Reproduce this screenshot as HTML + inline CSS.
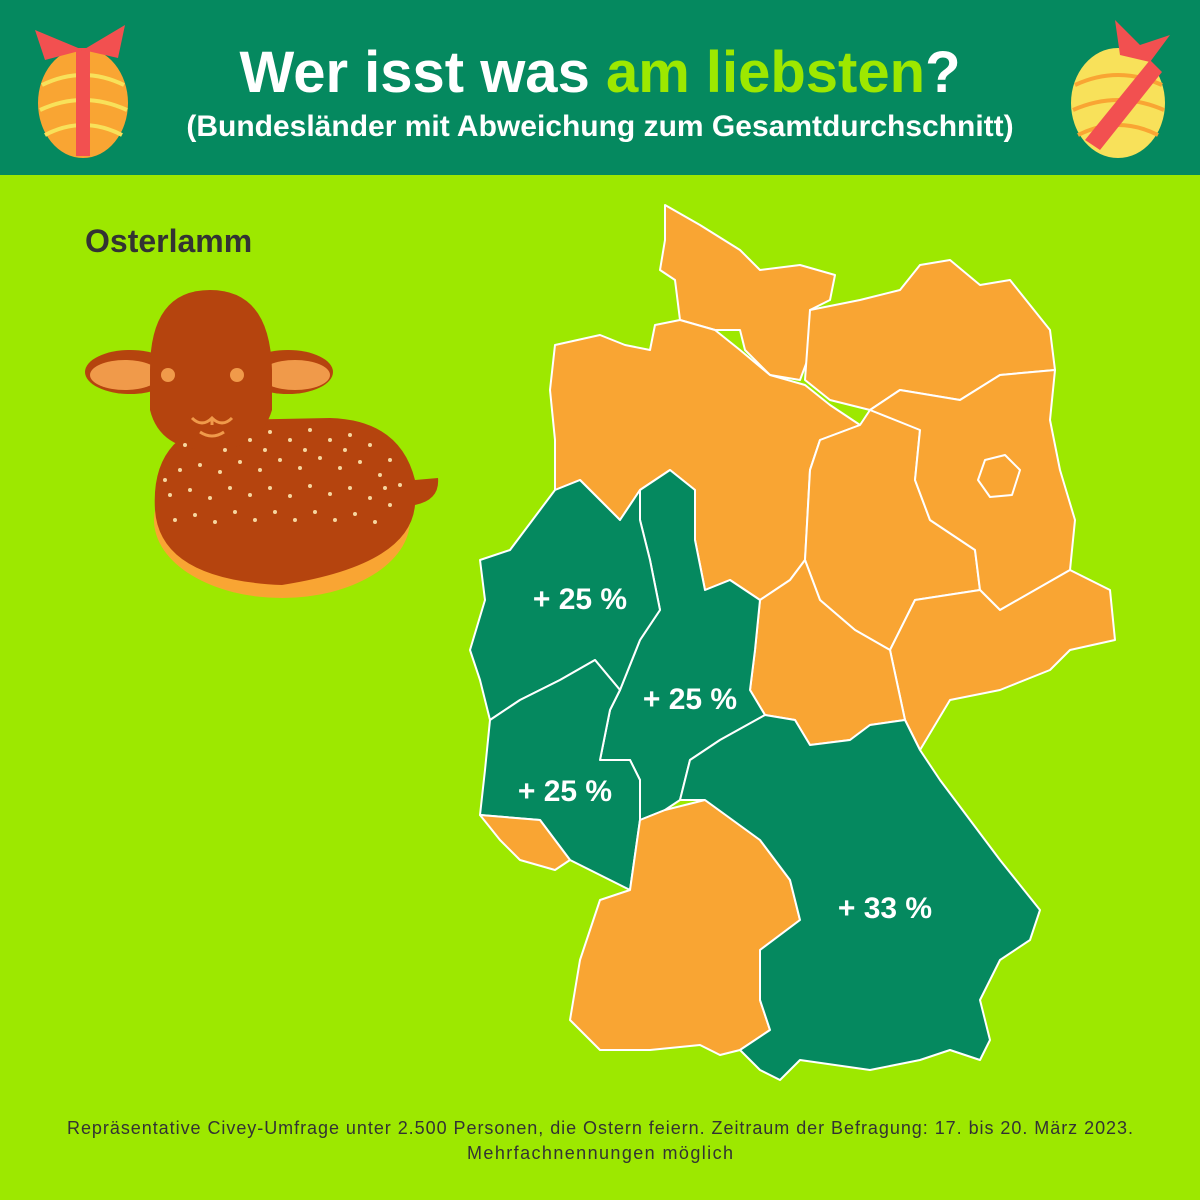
<!DOCTYPE html>
<html><head><meta charset="utf-8"><style>
html,body{margin:0;padding:0;width:1200px;height:1200px;overflow:hidden;background:#9DE800;font-family:"Liberation Sans",sans-serif}
</style></head><body>
<svg width="1200" height="1200" xmlns="http://www.w3.org/2000/svg" style="position:absolute;left:0;top:0">
<rect x="0" y="0" width="1200" height="175" fill="#05895F"/>
<rect x="0" y="175" width="1200" height="1025" fill="#9DE800"/>
<text x="600" y="92" text-anchor="middle" font-family="Liberation Sans, sans-serif" font-weight="bold" font-size="58" fill="#fff">Wer isst was <tspan fill="#9DE800">am liebsten</tspan>?</text>
<text x="600" y="136" text-anchor="middle" font-family="Liberation Sans, sans-serif" font-weight="bold" font-size="30" fill="#fff">(Bundesländer mit Abweichung zum Gesamtdurchschnitt)</text>
<!-- eggs -->
<g>
<ellipse cx="83" cy="103" rx="45" ry="55" fill="#F9A533"/>
<path d="M42 85 Q83 65 124 85 M40 110 Q83 90 127 110 M45 135 Q83 115 122 135" stroke="#F8E15A" stroke-width="4" fill="none"/>
<rect x="76" y="48" width="14" height="108" fill="#F25050"/>
<path d="M83 50 L35 30 L45 60 Z M83 50 L125 25 L118 58 Z" fill="#F25050"/>
<ellipse cx="1118" cy="103" rx="47" ry="55" fill="#F8E15A"/>
<path d="M1075 85 Q1118 65 1162 85 M1073 110 Q1118 90 1164 110 M1078 135 Q1118 115 1158 135" stroke="#F9A533" stroke-width="4" fill="none"/>
<path d="M1085 140 L1150 60 L1162 72 L1100 150 Z" fill="#F25050"/>
<path d="M1120 55 L1115 20 L1140 45 L1170 35 L1150 62 Z" fill="#F25050"/>
</g>
<text x="85" y="252" font-family="Liberation Sans, sans-serif" font-weight="bold" font-size="32" fill="#333">Osterlamm</text>
<!-- lamb -->
<g>
<ellipse cx="282" cy="520" rx="128" ry="78" fill="#F9A533"/>
<path d="M155 510 Q150 430 230 420 L330 418 Q400 420 415 480 L438 478 Q440 500 415 505 Q410 565 282 585 Q160 580 155 510 Z" fill="#B5440E"/>
<ellipse cx="130" cy="372" rx="45" ry="22" fill="#B5440E"/>
<ellipse cx="288" cy="372" rx="45" ry="22" fill="#B5440E"/>
<ellipse cx="125" cy="375" rx="35" ry="15" fill="#F09A4A"/>
<ellipse cx="295" cy="375" rx="35" ry="15" fill="#F09A4A"/>
<path d="M150 370 Q150 290 210 290 Q270 290 272 370 L272 410 Q260 450 210 450 Q160 450 150 410 Z" fill="#B5440E"/>
<circle cx="168" cy="375" r="7" fill="#F09A4A"/>
<circle cx="237" cy="375" r="7" fill="#F09A4A"/>
<path d="M192 418 Q202 428 212 418 Q222 428 232 418 M212 418 L212 425 M200 432 Q212 440 224 432" stroke="#F09A4A" stroke-width="3" fill="none"/>
<g fill="#F6D7A0">
<circle cx="250" cy="440" r="2"/><circle cx="270" cy="432" r="2"/><circle cx="290" cy="440" r="2"/><circle cx="310" cy="430" r="2"/><circle cx="330" cy="440" r="2"/><circle cx="350" cy="435" r="2"/><circle cx="370" cy="445" r="2"/><circle cx="390" cy="460" r="2"/>
<circle cx="180" cy="470" r="2"/><circle cx="200" cy="465" r="2"/><circle cx="220" cy="472" r="2"/><circle cx="240" cy="462" r="2"/><circle cx="260" cy="470" r="2"/><circle cx="280" cy="460" r="2"/><circle cx="300" cy="468" r="2"/><circle cx="320" cy="458" r="2"/><circle cx="340" cy="468" r="2"/><circle cx="360" cy="462" r="2"/><circle cx="380" cy="475" r="2"/><circle cx="400" cy="485" r="2"/>
<circle cx="170" cy="495" r="2"/><circle cx="190" cy="490" r="2"/><circle cx="210" cy="498" r="2"/><circle cx="230" cy="488" r="2"/><circle cx="250" cy="495" r="2"/><circle cx="270" cy="488" r="2"/><circle cx="290" cy="496" r="2"/><circle cx="310" cy="486" r="2"/><circle cx="330" cy="494" r="2"/><circle cx="350" cy="488" r="2"/><circle cx="370" cy="498" r="2"/><circle cx="390" cy="505" r="2"/>
<circle cx="175" cy="520" r="2"/><circle cx="195" cy="515" r="2"/><circle cx="215" cy="522" r="2"/><circle cx="235" cy="512" r="2"/><circle cx="255" cy="520" r="2"/><circle cx="275" cy="512" r="2"/><circle cx="295" cy="520" r="2"/><circle cx="315" cy="512" r="2"/><circle cx="335" cy="520" r="2"/><circle cx="355" cy="514" r="2"/><circle cx="375" cy="522" r="2"/>
<circle cx="165" cy="480" r="2"/><circle cx="185" cy="445" r="2"/><circle cx="225" cy="450" r="2"/><circle cx="265" cy="450" r="2"/><circle cx="305" cy="450" r="2"/><circle cx="345" cy="450" r="2"/><circle cx="385" cy="488" r="2"/>
</g>
</g>
<!-- map -->
<g stroke="#fff" stroke-width="2" stroke-linejoin="round">
<polygon fill="#F9A533" points="665,205 700,225 740,250 760,270 800,265 835,275 830,300 810,310 815,340 800,380 770,375 745,350 740,330 715,330 680,320 675,280 660,270 665,240"/>
<polygon fill="#F9A533" points="810,310 860,300 900,290 920,265 950,260 980,285 1010,280 1050,330 1055,370 1000,375 960,400 900,390 870,410 830,400 805,380"/>
<polygon fill="#F9A533" points="555,345 600,335 625,345 650,350 655,325 680,320 715,330 740,350 770,375 805,385 830,405 860,425 820,440 810,470 805,560 790,580 760,600 730,580 705,590 695,540 695,490 670,470 640,490 620,520 600,500 580,480 555,490 555,440 550,390"/>
<polygon fill="#F9A533" points="860,425 870,410 900,390 920,430 915,480 930,520 975,550 980,590 915,600 890,650 855,630 820,600 805,560 810,470 820,440"/>
<polygon fill="#F9A533" points="870,410 900,390 960,400 1000,375 1055,370 1050,420 1060,470 1075,520 1070,570 1000,610 980,590 975,550 930,520 915,480 920,430"/>
<polygon fill="#F9A533" points="985,460 1005,455 1020,470 1012,495 990,497 978,480"/>
<polygon fill="#F9A533" points="915,600 980,590 1000,610 1070,570 1110,590 1115,640 1070,650 1050,670 1000,690 950,700 920,750 905,720 890,650"/>
<polygon fill="#F9A533" points="760,600 790,580 805,560 820,600 855,630 890,650 905,720 870,725 850,740 810,745 795,720 765,715 750,690 755,650"/>
<polygon fill="#05895F" points="640,490 670,470 695,490 695,540 705,590 730,580 760,600 755,650 750,690 765,715 720,740 690,760 680,800 665,810 640,820 640,780 630,760 600,760 610,710 620,690 640,640 660,610 650,560 640,520"/>
<polygon fill="#05895F" points="555,490 580,480 600,500 620,520 640,490 640,520 650,560 660,610 640,640 620,690 595,660 560,680 520,700 490,720 480,680 470,650 485,600 480,560 510,550 540,510"/>
<polygon fill="#05895F" points="490,720 520,700 560,680 595,660 620,690 610,710 600,760 630,760 640,780 640,820 630,890 570,860 555,840 540,820 480,815 485,770"/>
<polygon fill="#F9A533" points="480,815 540,820 555,840 570,860 555,870 520,860 500,840"/>
<polygon fill="#F9A533" points="630,890 640,820 665,810 705,800 760,840 790,880 800,920 760,950 760,1000 770,1030 740,1050 720,1055 700,1045 650,1050 600,1050 570,1020 580,960 600,900"/>
<polygon fill="#05895F" points="680,800 690,760 720,740 765,715 795,720 810,745 850,740 870,725 905,720 920,750 940,780 970,820 1000,860 1040,910 1030,940 1000,960 980,1000 990,1040 980,1060 950,1050 920,1060 870,1070 800,1060 780,1080 760,1070 740,1050 770,1030 760,1000 760,950 800,920 790,880 760,840 705,800"/>
</g>
<g font-family="Liberation Sans, sans-serif" font-weight="bold" font-size="30" fill="#fff" text-anchor="middle">
<text x="580" y="609">+ 25 %</text>
<text x="690" y="709">+ 25 %</text>
<text x="565" y="801">+ 25 %</text>
<text x="885" y="918">+ 33 %</text>
</g>
<g font-family="Liberation Sans, sans-serif" font-size="18" fill="#333">
<text x="67" y="1134" textLength="1066" lengthAdjust="spacing">Repräsentative Civey-Umfrage unter 2.500 Personen, die Ostern feiern. Zeitraum der Befragung: 17. bis 20. März 2023.</text>
<text x="467" y="1159" textLength="266" lengthAdjust="spacing">Mehrfachnennungen möglich</text>
</g>
</svg>
</body></html>
